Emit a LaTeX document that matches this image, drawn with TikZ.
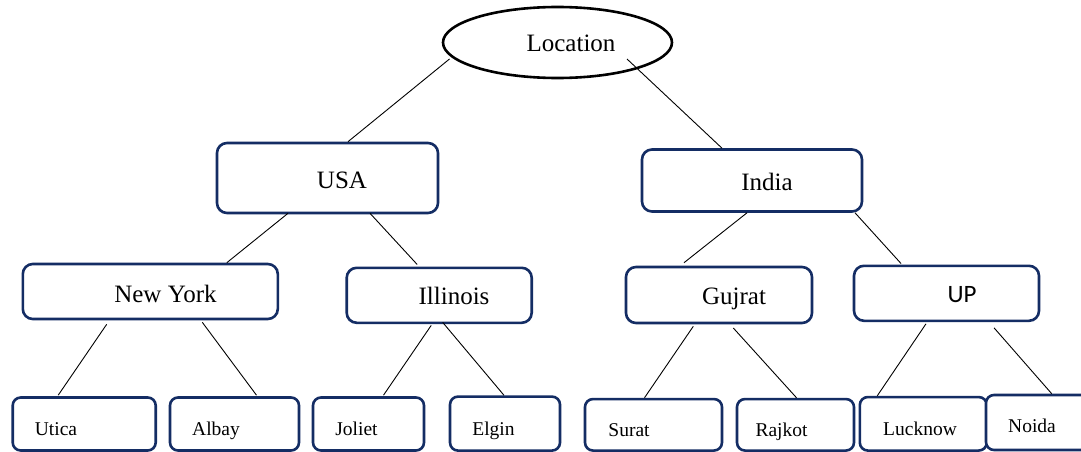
\documentclass[tikz,border=0pt]{standalone}
\usepackage{fontspec}
\setmainfont{Liberation Serif}
\newfontfamily\upfont{Carlito}
\usetikzlibrary{shapes.geometric}
\definecolor{navy}{RGB}{20,45,100}
\tikzset{
  box/.style={draw=navy, line width=2.6pt, rounded corners=10pt, fill=white, inner sep=0pt},
  leafbox/.style={draw=navy, line width=2.6pt, rounded corners=8pt, fill=white, inner sep=0pt},
  oval/.style={draw=black, ellipse, line width=2.6pt, inner sep=0pt},
  main/.style={anchor=base, inner sep=0pt, font=\fontsize{25}{29}\selectfont},
  leaf/.style={anchor=base, inner sep=0pt, font=\fontsize{19.5}{23}\selectfont},
  link/.style={draw=black, line width=0.9pt}
}
\begin{document}
\begin{tikzpicture}[x=1pt,y=-1pt]
\clip (0,0) rectangle (1081,452);
\fill[white] (0,0) rectangle (1081,452);
% root
\node[oval, minimum width=229pt, minimum height=71pt] (loc) at (557.5,42.5) {};
\node[main] (tloc) at (571,52) {Location};
% level 1
\node[box, minimum width=221pt, minimum height=70pt] (usa) at (327.5,178) {};
\node[main] (tusa) at (342,188.3) {USA};
\node[box, minimum width=220pt, minimum height=62pt] (india) at (752,180.5) {};
\node[main] (tindia) at (767,190) {India};
% level 2
\node[box, minimum width=255pt, minimum height=55pt] (ny) at (150.3,291.5) {};
\node[main] (tny) at (165.5,302.3) {New York};
\node[box, minimum width=185pt, minimum height=55pt] (il) at (439.2,295.3) {};
\node[main] (til) at (454,304.3) {Illinois};
\node[box, minimum width=186pt, minimum height=56pt] (gj) at (719,295) {};
\node[main] (tgj) at (734,304.3) {Gujrat};
\node[box, minimum width=185pt, minimum height=55pt] (up) at (946.5,293.3) {};
\node[main, font=\upfont\fontsize{25}{29}\selectfont] (tup) at (962,302.7) {UP};
% level 3
\node[leafbox, minimum width=143pt, minimum height=53pt] (utica) at (84.2,424) {};
\node[leaf] (tutica) at (56,435) {Utica};
\node[leafbox, minimum width=129pt, minimum height=53pt] (albay) at (234.5,424) {};
\node[leaf] (talbay) at (216,435) {Albay};
\node[leafbox, minimum width=111pt, minimum height=53pt] (joliet) at (368.5,424) {};
\node[leaf] (tjoliet) at (356.5,435) {Joliet};
\node[leafbox, minimum width=110pt, minimum height=54pt] (elgin) at (505,423.6) {};
\node[leaf] (telgin) at (493.5,435) {Elgin};
\node[leafbox, minimum width=137pt, minimum height=51.5pt] (surat) at (653.5,424.8) {};
\node[leaf] (tsurat) at (629,436.7) {Surat};
\node[leafbox, minimum width=117pt, minimum height=51.5pt] (rajkot) at (795.5,424.8) {};
\node[leaf] (trajkot) at (781.5,436.7) {Rajkot};
\node[leafbox, minimum width=127pt, minimum height=53.5pt] (lucknow) at (923.3,423.8) {};
\node[leaf] (tlucknow) at (920,435) {Lucknow};
\node[leafbox, minimum width=106pt, minimum height=55pt] (noida) at (1039,422.5) {};
\node[leaf] (tnoida) at (1032,432.7) {Noida};
% connectors
\draw[link] ([shift={(-108,16.5)}]loc.center) -- ([shift={(20.5,0)}]usa.north);
\draw[link] ([shift={(69.5,16.5)}]loc.center) -- ([shift={(-30,0)}]india.north);
\draw[link] ([shift={(-39.5,-1)}]usa.south) -- ([shift={(76.5,0)}]ny.north);
\draw[link] ([shift={(42.5,-1)}]usa.south) -- ([shift={(-22,-2)}]il.north);
\draw[link] ([shift={(-5,0)}]india.south) -- ([shift={(-35,-3)}]gj.north);
\draw[link] ([shift={(103,0)}]india.south) -- ([shift={(-45.5,-1)}]up.north);
\draw[link] ([shift={(-43.6,4)}]ny.south) -- ([shift={(-26,-1)}]utica.north);
\draw[link] ([shift={(52,2)}]ny.south) -- ([shift={(22,-1)}]albay.north);
\draw[link] ([shift={(-8,1.3)}]il.south) -- ([shift={(15,-1)}]joliet.north);
\draw[link] ([shift={(3.5,-1.7)}]il.south) -- ([shift={(-1,0)}]elgin.north);
\draw[link] ([shift={(-25.7,2)}]gj.south) -- ([shift={(-9,0)}]surat.north);
\draw[link] ([shift={(14.3,3.7)}]gj.south) -- ([shift={(1,0)}]rajkot.north);
\draw[link] ([shift={(-20.5,1.7)}]up.south) -- ([shift={(-46,0)}]lucknow.north);
\draw[link] ([shift={(47.5,5.7)}]up.south) -- ([shift={(67,0)}]noida.north west);
\end{tikzpicture}
\end{document}
